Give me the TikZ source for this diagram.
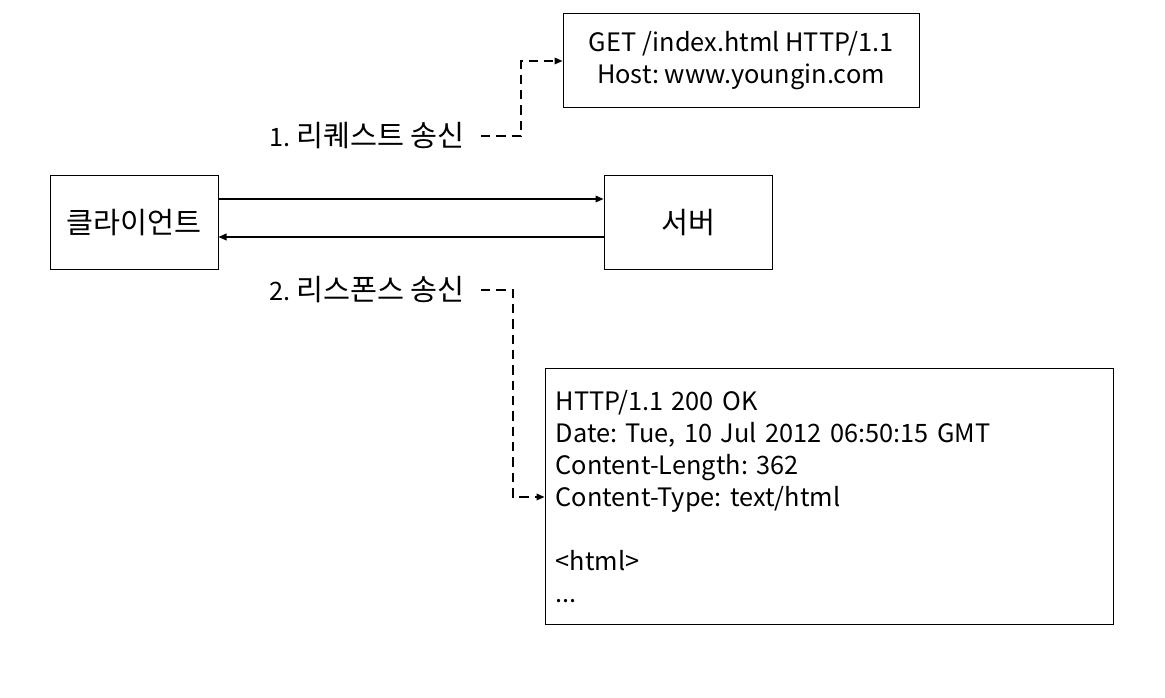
\documentclass[tikz,border=0pt]{standalone}
\usepackage{fontspec}
\setmainfont{Noto Sans CJK KR}
\usetikzlibrary{arrows.meta}
\newcommand{\kr}[1]{{\fontsize{22}{24}\selectfont #1}}
\begin{document}
\frenchspacing
\begin{tikzpicture}[x=0.75pt,y=-0.75pt,
  every node/.style={font=\fontsize{19}{24}\selectfont},
  box/.style={draw,line width=0.75pt,inner sep=0pt,align=center},
  lab/.style={inner sep=0pt,inner xsep=12pt,anchor=east},
  arr/.style={line width=1pt,-{Triangle[length=6pt,width=5pt]}},
  darr/.style={line width=1pt,dash pattern=on 7pt off 4.5pt,-{Triangle[length=6pt,width=5pt]}}]
\useasboundingbox (0,0) rectangle (1165,698);
\node[box,minimum width=267pt,minimum height=70.5pt] (req) at (741,61) {GET /index.html HTTP/1.1\\Host: www.youngin.com};
\node[box,minimum width=126pt,minimum height=70.5pt] (client) at (134,223) {\kr{클라이언트}};
\node[box,minimum width=126pt,minimum height=70.5pt] (server) at (688,223) {\kr{서버}};
\node[box,align=left,text width=410pt,inner xsep=8pt,minimum height=192pt] (resp) at (829,497) {HTTP/1.1 200 OK\\Date: Tue, 10 Jul 2012 06:50:15 GMT\\Content-Length: 362\\Content-Type: text/html\\[24pt]{<}html{>}\\...};
\node[lab] (lab1) at (481,136) {1. \kr{리퀘스트 송신}};
\node[lab] (lab2) at (481,290) {2. \kr{리스폰스 송신}};
\draw[arr] ([yshift=18pt]client.east) -- ([yshift=18pt]server.west);
\draw[arr] ([yshift=-10.5pt]server.west) -- ([yshift=-10.5pt]client.east);
\draw[darr] (lab1.east) -- ++(40,0) |- (req.west);
\draw[darr] (lab2.east) -- ++(32,0) |- (resp.west);
\end{tikzpicture}
\end{document}
